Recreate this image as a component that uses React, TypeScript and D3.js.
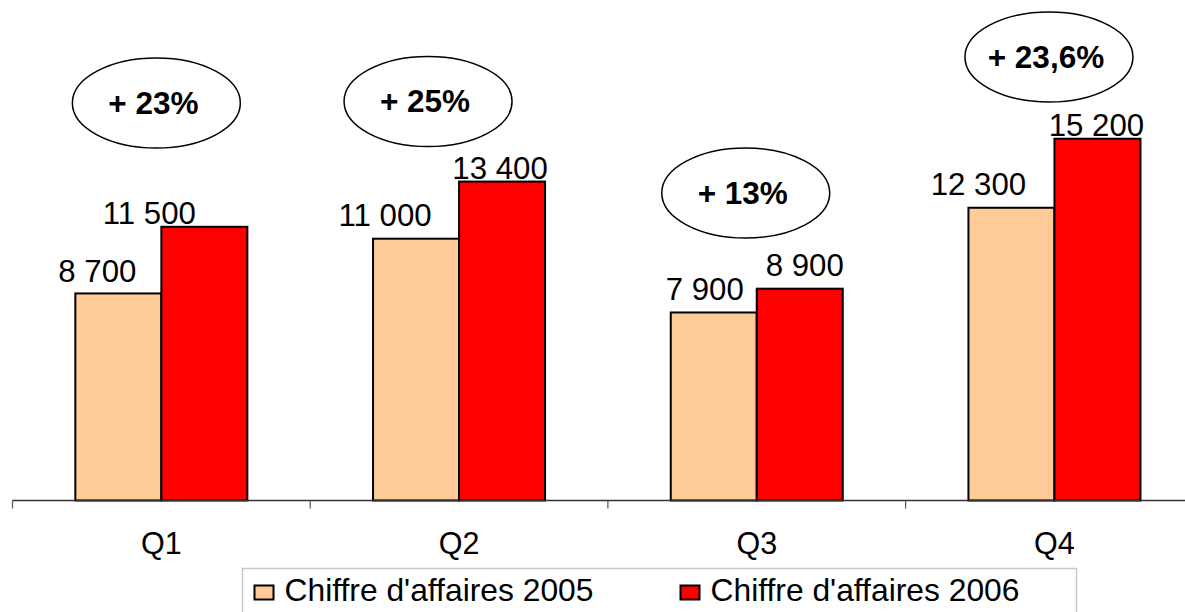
import React from "react";
import * as d3 from "d3";

const categories = ["Q1", "Q2", "Q3", "Q4"];
const series2005 = [8700, 11000, 7900, 12300];
const series2006 = [11500, 13400, 8900, 15200];
const seriesNames = ["Chiffre d'affaires 2005", "Chiffre d'affaires 2006"];
const growthLabels = ["+ 23%", "+ 25%", "+ 13%", "+ 23,6%"];

// annotation layout (pixels)
const ellipseDx = [-5, -31, -11, -5.5];
const ellipseCy = [103, 101.5, 193, 57];
const labelDx2005 = [-21, -31, -9, -33];
const labelGap2005 = [11, 13, 12, 13];
const labelDx2006 = [-55, -2, 5, -1];
const labelGap2006 = [3, 3, 12.6, 2.3];

const W = 1185;
const H = 612;
const fmt = (v: number) => d3.format(",")(v).replace(/,/g, " ");

export default function App() {
  const x = d3.scaleBand<string>().domain(categories).range([12.5, 12.5 + 4 * 297.7]).padding(0);
  const xs = d3
    .scaleBand<string>()
    .domain(["2005", "2006"])
    .range([0, x.bandwidth()])
    .paddingInner(0)
    .paddingOuter(0.7308);
  const y = d3.scaleLinear().domain([0, 20000]).range([500.5, 24.5]);
  const colors = ["#FFCC99", "#FF0000"];
  const font = "'Liberation Sans', Arial, sans-serif";

  const seriesData = [series2005, series2006];
  const labelDx = [labelDx2005, labelDx2006];
  const labelGap = [labelGap2005, labelGap2006];

  return (
    <svg width={W} height={H} style={{ position: "absolute", left: 0, top: 0, background: "#fff" }}>
      <rect x={0} y={0} width={W} height={H} fill="#fff" />
      {/* bars */}
      {categories.map((c, i) =>
        seriesData.map((s, k) => {
          const bx = (x(c) as number) + (xs(k === 0 ? "2005" : "2006") as number);
          const by = y(s[i]);
          return (
            <rect
              key={c + k}
              x={bx}
              y={by}
              width={xs.bandwidth()}
              height={y(0) - by}
              fill={colors[k]}
              stroke="#000"
              strokeWidth={2}
            />
          );
        })
      )}
      {/* axis */}
      <line x1={12.5} x2={W} y1={y(0)} y2={y(0)} stroke="#333" strokeWidth={1.5} />
      {[0, 1, 2, 3].map((i) => {
        const tx = 12.5 + i * x.step();
        return <line key={i} x1={tx} x2={tx} y1={y(0)} y2={y(0) + 8} stroke="#555" strokeWidth={1.2} />;
      })}
      {categories.map((c) => (
        <text
          key={c}
          x={(x(c) as number) + x.bandwidth() / 2}
          y={553.5}
          textAnchor="middle"
          fontFamily={font}
          fontSize={30.5}
          fill="#000"
        >
          {c}
        </text>
      ))}
      {/* data labels */}
      {categories.map((c, i) =>
        seriesData.map((s, k) => {
          const bx = (x(c) as number) + (xs(k === 0 ? "2005" : "2006") as number) + xs.bandwidth() / 2;
          return (
            <text
              key={"l" + c + k}
              x={bx + labelDx[k][i]}
              y={y(s[i]) - labelGap[k][i]}
              textAnchor="middle"
              fontFamily={font}
              fontSize={31.2}
              fill="#000"
            >
              {fmt(s[i])}
            </text>
          );
        })
      )}
      {/* growth ellipses */}
      {categories.map((c, i) => {
        const cx = (x(c) as number) + x.bandwidth() / 2 + ellipseDx[i];
        const cy = ellipseCy[i];
        return (
          <g key={"e" + c}>
            <ellipse cx={cx} cy={cy} rx={84} ry={45} fill="#fff" stroke="#000" strokeWidth={1.5} />
            <text
              x={cx - 3}
              y={cy + 10.5}
              textAnchor="middle"
              fontFamily={font}
              fontSize={31.5}
              fontWeight="bold"
              fill="#000"
            >
              {growthLabels[i]}
            </text>
          </g>
        );
      })}
      {/* legend */}
      <rect x={242.5} y={568.5} width={834} height={60} fill="#fff" stroke="#c8c8c8" strokeWidth={1.5} />
      {seriesNames.map((n, k) => {
        const lx = k === 0 ? 254.5 : 680.5;
        return (
          <g key={n}>
            <rect x={lx} y={585.5} width={19} height={14} fill={colors[k]} stroke="#000" strokeWidth={2} />
            <text x={lx + 30} y={600.5} fontFamily={font} fontSize={31.8} fill="#000">
              {n}
            </text>
          </g>
        );
      })}
    </svg>
  );
}
